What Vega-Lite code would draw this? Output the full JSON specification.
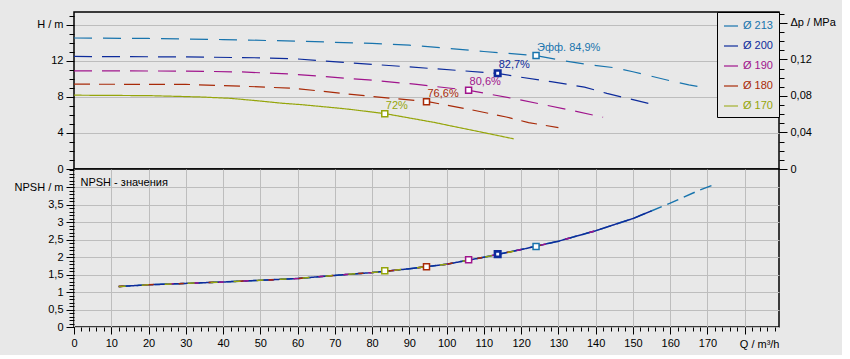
{
"$schema": "https://vega.github.io/schema/vega-lite/v6.json",
"background": "#e8e8e8",
"padding": {"left": 13, "top": 8, "right": 5, "bottom": 5},
"spacing": 0,
"bounds": "flush",
"config": {
  "font": "Liberation Sans",
  "view": {"stroke": "#000", "strokeWidth": 1.5},
  "axis": {"domain": false, "labelFont": "Liberation Sans", "labelFontSize": 11, "labelColor": "#000", "tickColor": "#000", "tickWidth": 1, "gridColor": "#bdbdbd", "gridWidth": 1, "gridOpacity": 1, "titleFont": "Liberation Sans", "titleFontSize": 11, "titleFontWeight": "normal", "titleColor": "#000", "labelOverlap": false, "labelFlush": false, "labelBound": false}
},
"datasets": {
  "h": [
    {"d": "Ø 213", "q": 0, "h": 14.55}, {"d": "Ø 213", "q": 20, "h": 14.5}, {"d": "Ø 213", "q": 40, "h": 14.38}, {"d": "Ø 213", "q": 60, "h": 14.2}, {"d": "Ø 213", "q": 80, "h": 13.95}, {"d": "Ø 213", "q": 90, "h": 13.75}, {"d": "Ø 213", "q": 100, "h": 13.42}, {"d": "Ø 213", "q": 110, "h": 13.05}, {"d": "Ø 213", "q": 124, "h": 12.6}, {"d": "Ø 213", "q": 131, "h": 12.05}, {"d": "Ø 213", "q": 139, "h": 11.55}, {"d": "Ø 213", "q": 145, "h": 11.25}, {"d": "Ø 213", "q": 150, "h": 10.8}, {"d": "Ø 213", "q": 155, "h": 10.3}, {"d": "Ø 213", "q": 160, "h": 9.8}, {"d": "Ø 213", "q": 165, "h": 9.35}, {"d": "Ø 213", "q": 169.5, "h": 9.0},
    {"d": "Ø 200", "q": 0, "h": 12.5}, {"d": "Ø 200", "q": 30, "h": 12.45}, {"d": "Ø 200", "q": 50, "h": 12.35}, {"d": "Ø 200", "q": 60, "h": 12.22}, {"d": "Ø 200", "q": 79, "h": 11.65}, {"d": "Ø 200", "q": 88, "h": 11.4}, {"d": "Ø 200", "q": 103, "h": 10.95}, {"d": "Ø 200", "q": 114, "h": 10.6}, {"d": "Ø 200", "q": 119, "h": 10.25}, {"d": "Ø 200", "q": 128, "h": 9.7}, {"d": "Ø 200", "q": 137, "h": 9.1}, {"d": "Ø 200", "q": 143, "h": 8.4}, {"d": "Ø 200", "q": 150, "h": 7.7}, {"d": "Ø 200", "q": 155, "h": 7.2},
    {"d": "Ø 190", "q": 0, "h": 10.9}, {"d": "Ø 190", "q": 30, "h": 10.88}, {"d": "Ø 190", "q": 45, "h": 10.78}, {"d": "Ø 190", "q": 58, "h": 10.55}, {"d": "Ø 190", "q": 79, "h": 9.9}, {"d": "Ø 190", "q": 92, "h": 9.4}, {"d": "Ø 190", "q": 106, "h": 8.74}, {"d": "Ø 190", "q": 119, "h": 7.74}, {"d": "Ø 190", "q": 132, "h": 6.65}, {"d": "Ø 190", "q": 142, "h": 5.75},
    {"d": "Ø 180", "q": 0, "h": 9.42}, {"d": "Ø 180", "q": 30, "h": 9.4}, {"d": "Ø 180", "q": 45, "h": 9.2}, {"d": "Ø 180", "q": 59, "h": 8.96}, {"d": "Ø 180", "q": 79, "h": 8.1}, {"d": "Ø 180", "q": 95, "h": 7.48}, {"d": "Ø 180", "q": 106, "h": 6.63}, {"d": "Ø 180", "q": 116, "h": 5.78}, {"d": "Ø 180", "q": 122, "h": 5.15}, {"d": "Ø 180", "q": 130, "h": 4.6},
    {"d": "Ø 170", "q": 0, "h": 8.2}, {"d": "Ø 170", "q": 20, "h": 8.15}, {"d": "Ø 170", "q": 34, "h": 8.0}, {"d": "Ø 170", "q": 42, "h": 7.85}, {"d": "Ø 170", "q": 50, "h": 7.55}, {"d": "Ø 170", "q": 56, "h": 7.3}, {"d": "Ø 170", "q": 61, "h": 7.15}, {"d": "Ø 170", "q": 70, "h": 6.8}, {"d": "Ø 170", "q": 74, "h": 6.63}, {"d": "Ø 170", "q": 83.5, "h": 6.15}, {"d": "Ø 170", "q": 97, "h": 5.15}, {"d": "Ø 170", "q": 101, "h": 4.8}, {"d": "Ø 170", "q": 110, "h": 4.04}, {"d": "Ø 170", "q": 118, "h": 3.35}
  ],
  "n": [
    {"d": "Ø 213", "q": 12, "n": 1.16}, {"d": "Ø 213", "q": 20, "n": 1.21}, {"d": "Ø 213", "q": 30, "n": 1.25}, {"d": "Ø 213", "q": 40, "n": 1.29}, {"d": "Ø 213", "q": 50, "n": 1.34}, {"d": "Ø 213", "q": 60, "n": 1.39}, {"d": "Ø 213", "q": 70, "n": 1.48}, {"d": "Ø 213", "q": 80, "n": 1.56}, {"d": "Ø 213", "q": 90, "n": 1.67}, {"d": "Ø 213", "q": 100, "n": 1.8}, {"d": "Ø 213", "q": 110, "n": 2.0}, {"d": "Ø 213", "q": 120, "n": 2.22}, {"d": "Ø 213", "q": 130, "n": 2.46}, {"d": "Ø 213", "q": 140, "n": 2.76}, {"d": "Ø 213", "q": 150, "n": 3.11}, {"d": "Ø 213", "q": 160, "n": 3.55}, {"d": "Ø 213", "q": 168, "n": 3.93}, {"d": "Ø 213", "q": 172, "n": 4.09},
    {"d": "Ø 200", "q": 12, "n": 1.16}, {"d": "Ø 200", "q": 20, "n": 1.21}, {"d": "Ø 200", "q": 30, "n": 1.25}, {"d": "Ø 200", "q": 40, "n": 1.29}, {"d": "Ø 200", "q": 50, "n": 1.34}, {"d": "Ø 200", "q": 60, "n": 1.39}, {"d": "Ø 200", "q": 70, "n": 1.48}, {"d": "Ø 200", "q": 80, "n": 1.56}, {"d": "Ø 200", "q": 90, "n": 1.67}, {"d": "Ø 200", "q": 100, "n": 1.8}, {"d": "Ø 200", "q": 110, "n": 2.0}, {"d": "Ø 200", "q": 120, "n": 2.22}, {"d": "Ø 200", "q": 130, "n": 2.46}, {"d": "Ø 200", "q": 140, "n": 2.76}, {"d": "Ø 200", "q": 150, "n": 3.11}, {"d": "Ø 200", "q": 155, "n": 3.33},
    {"d": "Ø 190", "q": 12, "n": 1.16}, {"d": "Ø 190", "q": 20, "n": 1.21}, {"d": "Ø 190", "q": 30, "n": 1.25}, {"d": "Ø 190", "q": 40, "n": 1.29}, {"d": "Ø 190", "q": 50, "n": 1.34}, {"d": "Ø 190", "q": 60, "n": 1.39}, {"d": "Ø 190", "q": 70, "n": 1.48}, {"d": "Ø 190", "q": 80, "n": 1.56}, {"d": "Ø 190", "q": 90, "n": 1.67}, {"d": "Ø 190", "q": 100, "n": 1.8}, {"d": "Ø 190", "q": 110, "n": 2.0}, {"d": "Ø 190", "q": 120, "n": 2.22}, {"d": "Ø 190", "q": 130, "n": 2.46}, {"d": "Ø 190", "q": 140, "n": 2.76}, {"d": "Ø 190", "q": 142, "n": 2.83},
    {"d": "Ø 180", "q": 12, "n": 1.16}, {"d": "Ø 180", "q": 20, "n": 1.21}, {"d": "Ø 180", "q": 30, "n": 1.25}, {"d": "Ø 180", "q": 40, "n": 1.29}, {"d": "Ø 180", "q": 50, "n": 1.34}, {"d": "Ø 180", "q": 60, "n": 1.39}, {"d": "Ø 180", "q": 70, "n": 1.48}, {"d": "Ø 180", "q": 80, "n": 1.56}, {"d": "Ø 180", "q": 90, "n": 1.67}, {"d": "Ø 180", "q": 100, "n": 1.8}, {"d": "Ø 180", "q": 110, "n": 2.0}, {"d": "Ø 180", "q": 120, "n": 2.22}, {"d": "Ø 180", "q": 130, "n": 2.46},
    {"d": "Ø 170", "q": 12, "n": 1.16}, {"d": "Ø 170", "q": 20, "n": 1.21}, {"d": "Ø 170", "q": 30, "n": 1.25}, {"d": "Ø 170", "q": 40, "n": 1.29}, {"d": "Ø 170", "q": 50, "n": 1.34}, {"d": "Ø 170", "q": 60, "n": 1.39}, {"d": "Ø 170", "q": 70, "n": 1.48}, {"d": "Ø 170", "q": 80, "n": 1.56}, {"d": "Ø 170", "q": 90, "n": 1.67}, {"d": "Ø 170", "q": 100, "n": 1.8}, {"d": "Ø 170", "q": 110, "n": 2.0}, {"d": "Ø 170", "q": 118, "n": 2.17}
  ],
  "eff": [
    {"d": "Ø 213", "q": 124, "h": 12.6, "n": 2.31, "lbl": "Эфф.   84,9%"},
    {"d": "Ø 200", "q": 113.7, "h": 10.63, "n": 2.09, "lbl": "82,7%"},
    {"d": "Ø 190", "q": 105.9, "h": 8.74, "n": 1.93, "lbl": "80,6%"},
    {"d": "Ø 180", "q": 94.6, "h": 7.48, "n": 1.73, "lbl": "76,6%"},
    {"d": "Ø 170", "q": 83.4, "h": 6.15, "n": 1.61, "lbl": "72%"}
  ],
  "dp": [{"dp": 0}, {"dp": 0.172}]
},
"resolve": {"scale": {"color": "independent", "strokeDash": "independent"}},
"vconcat": [
  {
    "width": 705, "height": 157,
    "resolve": {"scale": {"y": "independent"}},
    "layer": [
      {
        "data": {"name": "h"},
        "mark": {"type": "line", "strokeWidth": 1.2, "clip": true},
        "encoding": {
          "x": {"field": "q", "type": "quantitative", "scale": {"domain": [0, 189.2], "nice": false, "zero": false},
                "axis": {"orient": "top", "values": [0,10,20,30,40,50,60,70,80,90,100,110,120,130,140,150,160,170,180], "grid": true, "labels": false, "ticks": false, "domain": false, "title": "Напор", "titleX": 6, "titleY": 13, "titleAlign": "left", "titleBaseline": "middle", "titleAngle": 0, "titleFontSize": 11}},
          "y": {"field": "h", "type": "quantitative", "scale": {"domain": [0, 17.44], "nice": false, "zero": false},
                "axis": {"orient": "left", "values": [0, 4, 8, 12, 16], "grid": true, "tickSize": 8, "labelPadding": 3, "title": null, "labelExpr": "datum.value == 16 ? 'H / m' : datum.label"}},
          "color": {"field": "d", "type": "nominal",
                    "scale": {"domain": ["Ø 213", "Ø 200", "Ø 190", "Ø 180", "Ø 170"], "range": ["#1874ad", "#0d2b9b", "#a0148c", "#a82a08", "#95a50a"]},
                    "legend": {"title": null, "orient": "top-right", "offset": 0, "strokeColor": "#000", "fillColor": "#e8e8e8", "padding": 6, "rowPadding": 7, "symbolType": "stroke", "symbolSize": 196, "symbolStrokeWidth": 1.2, "symbolDash": [1, 0], "labelOffset": 4, "labelFontSize": 11, "labelFont": "Liberation Sans", "labelExpr": "datum.label + '   '",
                               "labelColor": {"expr": "datum.value == 'Ø 213' ? '#1874ad' : datum.value == 'Ø 200' ? '#0d2b9b' : datum.value == 'Ø 190' ? '#a0148c' : datum.value == 'Ø 180' ? '#a82a08' : '#95a50a'"}}},
          "strokeDash": {"field": "d", "type": "nominal", "scale": {"domain": ["Ø 213", "Ø 200", "Ø 190", "Ø 180", "Ø 170"], "range": [[18, 11], [18, 10], [18, 10], [16, 9], [1, 0]]}, "legend": null}
        }
      },
      {
        "data": {"name": "eff"},
        "transform": [{"filter": "datum.d != 'Ø 200'"}],
        "mark": {"type": "point", "shape": "square", "filled": false, "fill": "#ffffff", "size": 36, "strokeWidth": 1.5, "opacity": 1},
        "encoding": {
          "x": {"field": "q", "type": "quantitative", "axis": null},
          "y": {"field": "h", "type": "quantitative", "scale": {"domain": [0, 17.44], "nice": false, "zero": false},
                "axis": {"orient": "left", "values": [0,1,2,3,4,5,6,7,8,9,10,11,12,13,14,15,16,17], "grid": false, "labels": false, "tickSize": 5, "title": null}},
          "color": {"field": "d", "type": "nominal"}
        }
      },
      {
        "data": {"name": "eff"},
        "transform": [{"filter": "datum.d == 'Ø 200'"}],
        "mark": {"type": "point", "shape": "square", "filled": false, "fill": "#ffffff", "size": 30, "strokeWidth": 2.6, "opacity": 1},
        "encoding": {
          "x": {"field": "q", "type": "quantitative", "axis": null},
          "y": {"field": "h", "type": "quantitative", "scale": {"domain": [0, 17.44], "nice": false, "zero": false}, "axis": null},
          "color": {"field": "d", "type": "nominal"}
        }
      },
      {
        "data": {"name": "eff"},
        "mark": {"type": "text", "align": "left", "baseline": "middle", "dx": 1, "dy": -8, "fontSize": 11, "font": "Liberation Sans"},
        "encoding": {
          "x": {"field": "q", "type": "quantitative", "axis": null},
          "y": {"field": "h", "type": "quantitative", "scale": {"domain": [0, 17.44], "nice": false, "zero": false}, "axis": null},
          "text": {"field": "lbl"},
          "color": {"field": "d", "type": "nominal"}
        }
      },
      {
        "data": {"name": "dp"},
        "mark": {"type": "point", "opacity": 0},
        "encoding": {
          "y": {"field": "dp", "type": "quantitative", "scale": {"domain": [0, 0.172], "nice": false, "zero": false},
                "axis": {"orient": "right", "values": [0, 0.04, 0.08, 0.12, 0.16], "grid": false, "tickSize": 8, "labelPadding": 3, "title": null, "labelExpr": "datum.value == 0.16 ? 'Δp / MPa' : replace(format(datum.value, '~g'), '.', ',')"}}
        }
      },
      {
        "data": {"name": "dp"},
        "mark": {"type": "point", "opacity": 0},
        "encoding": {
          "y": {"field": "dp", "type": "quantitative", "scale": {"domain": [0, 0.172], "nice": false, "zero": false},
                "axis": {"orient": "right", "values": [0,0.01,0.02,0.03,0.04,0.05,0.06,0.07,0.08,0.09,0.1,0.11,0.12,0.13,0.14,0.15,0.16,0.17], "grid": false, "labels": false, "tickSize": 5, "title": null}}
        }
      }
    ]
  },
  {
    "width": 705, "height": 158,
    "resolve": {"axis": {"x": "independent", "y": "independent"}},
    "layer": [
      {
        "data": {"name": "n"},
        "mark": {"type": "line", "strokeWidth": 1.5, "clip": true},
        "encoding": {
          "x": {"field": "q", "type": "quantitative", "scale": {"domain": [0, 189.2], "nice": false, "zero": false},
                "axis": {"orient": "bottom", "values": [0,10,20,30,40,50,60,70,80,90,100,110,120,130,140,150,160,170,180], "grid": true, "tickSize": 7, "labelPadding": 3, "labelExpr": "datum.value == 180 ? '' : datum.label",
                         "title": "Q / m³/h", "titleX": 705, "titleY": 17, "titleAlign": "right", "titleBaseline": "middle", "titleAngle": 0}},
          "y": {"field": "n", "type": "quantitative", "scale": {"domain": [0, 4.53], "nice": false, "zero": false},
                "axis": {"orient": "left", "values": [0, 0.5, 1, 1.5, 2, 2.5, 3, 3.5, 4], "grid": true, "tickSize": 8, "labelPadding": 3, "title": null,
                         "labelExpr": "datum.value == 4 ? 'NPSH / m' : replace(format(datum.value, '~g'), '.', ',')"}},
          "color": {"field": "d", "type": "nominal",
                    "scale": {"domain": ["Ø 213", "Ø 200", "Ø 190", "Ø 180", "Ø 170"], "range": ["#1874ad", "#0d2b9b", "#a0148c", "#a82a08", "#95a50a"]}, "legend": null},
          "strokeDash": {"field": "d", "type": "nominal", "scale": {"domain": ["Ø 213", "Ø 200", "Ø 190", "Ø 180", "Ø 170"], "range": [[12, 6], [1, 0], [5, 20], [5, 25], [7, 16]]}, "legend": null}
        }
      },
      {
        "data": {"name": "eff"},
        "transform": [{"filter": "datum.d != 'Ø 200'"}],
        "mark": {"type": "point", "shape": "square", "filled": false, "fill": "#ffffff", "size": 36, "strokeWidth": 1.5, "opacity": 1},
        "encoding": {
          "x": {"field": "q", "type": "quantitative",
                "axis": {"orient": "bottom", "values": [0,2,4,6,8,10,12,14,16,18,20,22,24,26,28,30,32,34,36,38,40,42,44,46,48,50,52,54,56,58,60,62,64,66,68,70,72,74,76,78,80,82,84,86,88,90,92,94,96,98,100,102,104,106,108,110,112,114,116,118,120,122,124,126,128,130,132,134,136,138,140,142,144,146,148,150,152,154,156,158,160,162,164,166,168,170,172,174,176,178,180,182,184,186,188], "grid": false, "labels": false, "tickSize": 4, "title": null}},
          "y": {"field": "n", "type": "quantitative",
                "axis": {"orient": "left", "values": [0,0.1,0.2,0.3,0.4,0.5,0.6,0.7,0.8,0.9,1,1.1,1.2,1.3,1.4,1.5,1.6,1.7,1.8,1.9,2,2.1,2.2,2.3,2.4,2.5,2.6,2.7,2.8,2.9,3,3.1,3.2,3.3,3.4,3.5,3.6,3.7,3.8,3.9,4,4.1,4.2,4.3,4.4,4.5], "grid": false, "labels": false, "tickSize": 5, "title": null}},
          "color": {"field": "d", "type": "nominal"}
        }
      },
      {
        "data": {"name": "eff"},
        "transform": [{"filter": "datum.d == 'Ø 200'"}],
        "mark": {"type": "point", "shape": "square", "filled": false, "fill": "#ffffff", "size": 30, "strokeWidth": 2.6, "opacity": 1},
        "encoding": {
          "x": {"field": "q", "type": "quantitative",
                "axis": {"orient": "top", "grid": false, "labels": false, "ticks": false, "domain": false, "title": "NPSH - значения", "titleX": 6, "titleY": 13, "titleAlign": "left", "titleBaseline": "middle", "titleAngle": 0}},
          "y": {"field": "n", "type": "quantitative", "axis": null},
          "color": {"field": "d", "type": "nominal"}
        }
      }
    ]
  }
]
}
